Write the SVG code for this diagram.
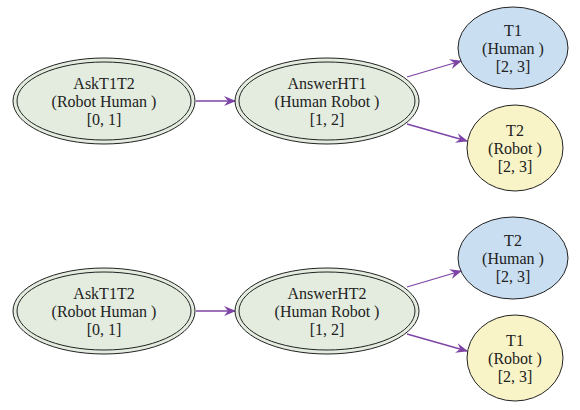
<svg xmlns="http://www.w3.org/2000/svg" width="580" height="410" viewBox="0 0 580 410">
<style>
.bg{fill:#ffffff}
.act{fill:#e3ecdf;stroke:#222;stroke-width:1}
.act2{fill:none;stroke:#222;stroke-width:1}
.hum{fill:#c9def1;stroke:#222;stroke-width:1}
.rob{fill:#f8f4c8;stroke:#222;stroke-width:1}
text{font-family:"Liberation Serif","Times New Roman",serif;font-size:16px;fill:#222;text-anchor:middle}
.edge{stroke:#7d44a6;stroke-width:1.3;fill:none;marker-end:url(#arr)}
</style>
<defs>
<marker id="arr" viewBox="0 0 12 10" refX="11" refY="5" markerWidth="12" markerHeight="10" markerUnits="userSpaceOnUse" orient="auto">
<path d="M0,0 L12,5 L0,10 L4,5 Z" fill="#7d44a6"/>
</marker>
</defs>
<rect class="bg" width="580" height="410"/>
<g id="connectors">
<path class="edge" d="M196,101 L235,101"/>
<path class="edge" d="M407,77 L461,61"/>
<path class="edge" d="M407,124 L467,141"/>
<path class="edge" d="M196,311 L235,311"/>
<path class="edge" d="M407,287 L461,271"/>
<path class="edge" d="M407,334 L467,351"/>
</g>
<g id="ask1">
<ellipse class="act" cx="104" cy="101" rx="91" ry="43"/>
<ellipse class="act2" cx="104" cy="101" rx="87" ry="39"/>
<text x="104" y="89">AskT1T2</text>
<text x="104" y="107">(Robot Human )</text>
<text x="104" y="125">[0, 1]</text>
</g>
<g id="answer1">
<ellipse class="act" cx="327" cy="101" rx="92" ry="43"/>
<ellipse class="act2" cx="327" cy="101" rx="88" ry="39"/>
<text x="327" y="89">AnswerHT1</text>
<text x="327" y="107">(Human Robot )</text>
<text x="327" y="125">[1, 2]</text>
</g>
<g id="t1human">
<ellipse class="hum" cx="513" cy="48" rx="55" ry="41"/>
<text x="513" y="36">T1</text>
<text x="513" y="54">(Human )</text>
<text x="513" y="72">[2, 3]</text>
</g>
<g id="t2robot">
<ellipse class="rob" cx="515" cy="148" rx="48" ry="43"/>
<text x="515" y="136">T2</text>
<text x="515" y="154">(Robot )</text>
<text x="515" y="172">[2, 3]</text>
</g>
<g id="ask2">
<ellipse class="act" cx="104" cy="311" rx="91" ry="43"/>
<ellipse class="act2" cx="104" cy="311" rx="87" ry="39"/>
<text x="104" y="299">AskT1T2</text>
<text x="104" y="317">(Robot Human )</text>
<text x="104" y="335">[0, 1]</text>
</g>
<g id="answer2">
<ellipse class="act" cx="327" cy="311" rx="92" ry="43"/>
<ellipse class="act2" cx="327" cy="311" rx="88" ry="39"/>
<text x="327" y="299">AnswerHT2</text>
<text x="327" y="317">(Human Robot )</text>
<text x="327" y="335">[1, 2]</text>
</g>
<g id="t2human">
<ellipse class="hum" cx="513" cy="258" rx="55" ry="41"/>
<text x="513" y="246">T2</text>
<text x="513" y="264">(Human )</text>
<text x="513" y="282">[2, 3]</text>
</g>
<g id="t1robot">
<ellipse class="rob" cx="515" cy="358" rx="48" ry="43"/>
<text x="515" y="346">T1</text>
<text x="515" y="364">(Robot )</text>
<text x="515" y="382">[2, 3]</text>
</g>
</svg>
